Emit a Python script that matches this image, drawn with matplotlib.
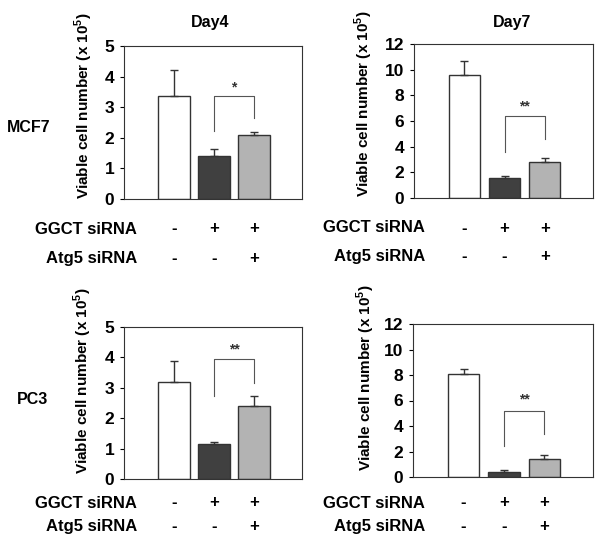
import numpy as np
import matplotlib.pyplot as plt

plt.rcParams['font.family'] = ['Liberation Sans', 'DejaVu Sans']
plt.rcParams['font.weight'] = 'bold'

# data (x 10^5 cells)
mcf7_day4 = [3.37, 1.40, 2.10]
mcf7_day4_err = [0.85, 0.23, 0.08]
mcf7_day7 = [9.58, 1.55, 2.78]
mcf7_day7_err = [1.12, 0.20, 0.36]
pc3_day4 = [3.20, 1.16, 2.40]
pc3_day4_err = [0.67, 0.07, 0.34]
pc3_day7 = [8.10, 0.37, 1.45]
pc3_day7_err = [0.38, 0.14, 0.31]

ggct_signs = ['-', '+', '+']
atg5_signs = ['-', '-', '+']
bar_colors = ['white', '#404040', '#b3b3b3']

W, H = 600, 547
fig = plt.figure(figsize=(6, 5.47), dpi=100)

def rect(l, t, r, b):
    return [l / W, 1 - b / H, (r - l) / W, (b - t) / H]

def panel(box, vals, errs, ymax, step, sig, bracket, star_y, lab_xy):
    ax = fig.add_axes(rect(*box))
    x = np.arange(3)
    ax.bar(x, vals, width=0.78, color=bar_colors, edgecolor='#333333', linewidth=1)
    ax.errorbar(x, vals, yerr=[np.zeros(3), errs], fmt='none', ecolor='#333333',
                elinewidth=1, capsize=3, capthick=1)
    ax.set_xlim(-1.25, 3.2)
    ax.set_ylim(0, ymax)
    ax.set_yticks(np.arange(0, ymax + 0.1, step))
    ax.set_xticks([])
    ax.tick_params(axis='y', labelsize=12.5, length=3, width=0.8, direction='out', pad=4)
    for s in ax.spines.values():
        s.set_linewidth(0.8)
        s.set_color('#333333')
    ax.set_ylabel('Viable cell number (x 10$^\\mathregular{5}$)', fontsize=11,
                  fontweight='bold')
    ax.yaxis.set_label_coords(*lab_xy)
    # significance bracket
    l0, top, r0 = bracket
    ax.plot([1, 1, 2, 2], [l0, top, top, r0], color='#555555', lw=0.8)
    ax.text(1.5, star_y, sig, ha='center', va='center', fontsize=10, color='#333333')
    return ax

def signs(box, y1, y2, lx):
    l, t, r, b = box
    ax_w = r - l
    for i in range(3):
        xp = l + (i + 1.25) / 4.45 * ax_w
        fig.text(xp / W, 1 - y1 / H, ggct_signs[i], ha='center', va='center', fontsize=12)
        fig.text(xp / W, 1 - y2 / H, atg5_signs[i], ha='center', va='center', fontsize=12)
    fig.text(lx / W, 1 - y1 / H, 'GGCT siRNA', ha='right', va='center', fontsize=12)
    fig.text(lx / W, 1 - y2 / H, 'Atg5 siRNA', ha='right', va='center', fontsize=12)

tl = (124, 46, 302, 199)
tr = (414, 44, 593, 198)
bl = (124, 327, 302, 479)
br = (413, 324, 593, 477)

a1 = panel(tl, mcf7_day4, mcf7_day4_err, 5, 1, '*', (2.23, 3.37, 2.64), 3.65, (-0.165, 0.61))
a2 = panel(tr, mcf7_day7, mcf7_day7_err, 12, 2, '**', (3.6, 6.4, 4.6), 7.1, (-0.218, 0.61))
a3 = panel(bl, pc3_day4, pc3_day4_err, 5, 1, '**', (2.74, 3.95, 3.16), 4.25, (-0.17, 0.645))
a4 = panel(br, pc3_day7, pc3_day7_err, 12, 2, '**', (2.4, 5.2, 3.4), 6.1, (-0.2, 0.65))

signs(tl, 229, 258, 137)
signs(tr, 228, 257, 425)
signs(bl, 503, 526, 137)
signs(br, 503, 526, 425)

fig.text(210 / W, 1 - 22 / H, 'Day4', ha='center', va='center', fontsize=11.5)
fig.text(512 / W, 1 - 22 / H, 'Day7', ha='center', va='center', fontsize=11.5)
fig.text(7 / W, 1 - 127 / H, 'MCF7', ha='left', va='center', fontsize=11.5)
fig.text(17 / W, 1 - 400 / H, 'PC3', ha='left', va='center', fontsize=11.5)

fig.savefig('out.png', dpi=100)
